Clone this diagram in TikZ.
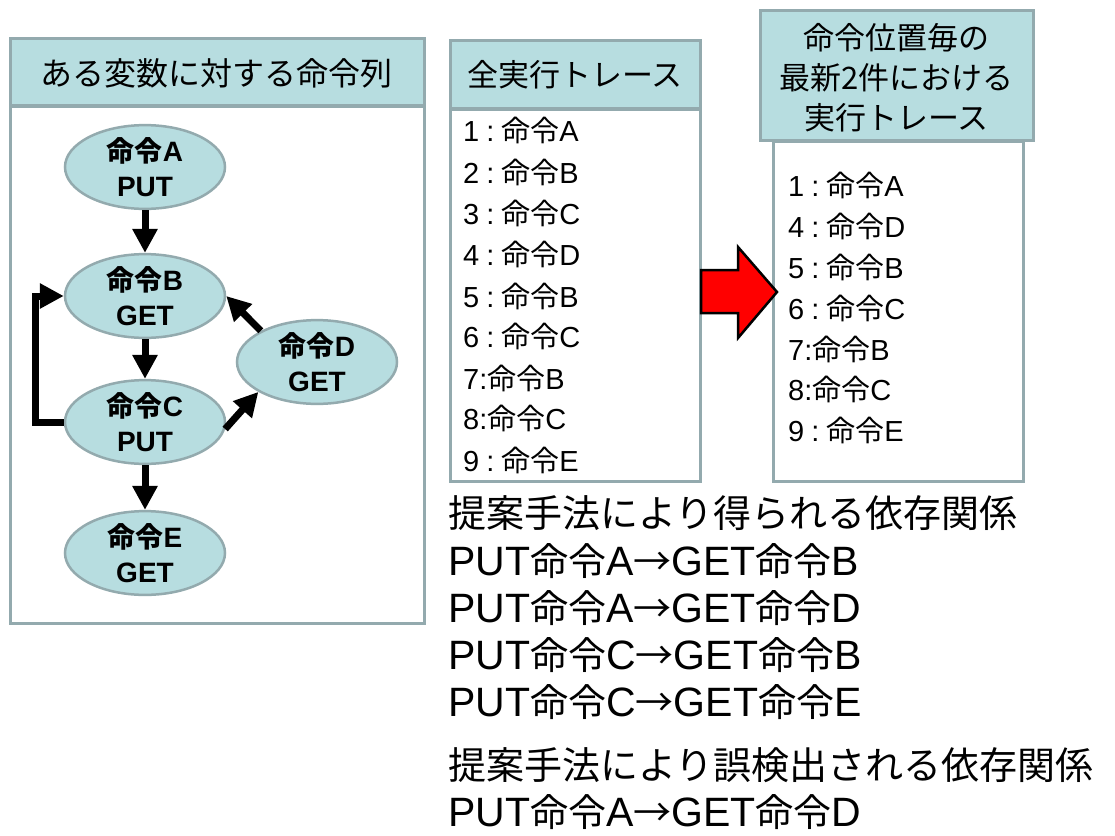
\documentclass[tikz,border=0pt]{standalone}
\usepackage{fontspec}
\setmainfont{Liberation Sans}
\newfontfamily\jp{Noto Sans CJK JP}
\usetikzlibrary{arrows.meta,shapes.geometric}
\definecolor{hdrfill}{RGB}{183,221,224}
\definecolor{bordc}{RGB}{147,170,174}
\newcommand\jt[1]{{\jp #1}}
\newcommand\bl[1]{{\rmfamily\fontsize{41}{46}\selectfont #1}}
\newcommand\wcol{\hspace{7pt}:\hspace{7pt}}
\begin{document}
\begin{tikzpicture}[x=1pt,y=-1pt,
  hdr/.style={draw=bordc, fill=hdrfill, line width=3pt, rectangle, inner sep=0pt},
  bodyb/.style={draw=bordc, fill=white, line width=3pt, rectangle, inner sep=0pt},
  inst/.style={ellipse, draw=bordc, fill=hdrfill, line width=2.5pt, minimum width=160pt, minimum height=76pt, inner sep=0pt, align=center, font=\bfseries\fontsize{28}{35}\selectfont},
  arr/.style={line width=7pt, -{Triangle[length=24pt,width=24pt]}, black},
  listt/.style={anchor=west, inner sep=0pt, font=\fontsize{29}{34}\selectfont},
  hdt/.style={font=\jp\fontsize{31}{40}\selectfont, align=center, inner sep=0pt},
  bott/.style={anchor=west, inner sep=0pt, font=\jp\fontsize{38}{46}\selectfont}
]
\fill[white] (0,0) rectangle (1115,835);
\useasboundingbox (0,0) rectangle (1115,835);

% left panel
\node[bodyb, minimum width=414pt, minimum height=517pt, anchor=north] (lb) at (217,105) {};
\node[hdr, minimum width=414pt, minimum height=67pt] (lh) at (217,71.5) {};
\node[hdt, font=\jp\fontsize{32}{40}\selectfont] (lt) at (216,73) {ある変数に対する命令列};

% middle panel
\node[bodyb, minimum width=250pt, minimum height=372pt, anchor=north] (mb) at (575,108) {};
\node[hdr, minimum width=250pt, minimum height=68pt] (mh) at (575,74) {};
\node[hdt] (mt) at (575,75) {全実行トレース};

% right panel
\node[bodyb, minimum width=250pt, minimum height=340pt, anchor=north] (rb) at (898,140) {};
\node[hdr, minimum width=273pt, minimum height=130pt] (rh) at (896.5,75) {};
\node[hdt] (rt) at (896.5,78) {命令位置毎の\\最新2件における\\実行トレース};

% instruction graph
\node[inst] (A) at (145,167) {\jt{命令}A\\PUT};
\node[inst] (B) at (145,296) {\jt{命令}B\\GET};
\node[inst] (C) at (145,422) {\jt{命令}C\\PUT};
\node[inst] (D) at (317,362) {\jt{命令}D\\GET};
\node[inst] (E) at (145,553) {\jt{命令}E\\GET};

\draw[arr] (A) -- (B);
\draw[arr] (B) -- (C);
\draw[arr] (C) -- (E);
\draw[arr] (C.355) -- (D.207);
\draw[arr] (D.151) -- (B.0);
\draw[arr, line join=miter] (C.west) -- ++(-28,0) |- (B.west);

% full trace list
\node[listt] (m1) at (463,130) {1\wcol\jt{命令}A};
\node[listt] (m2) at (463,172) {2\wcol\jt{命令}B};
\node[listt] (m3) at (463,213) {3\wcol\jt{命令}C};
\node[listt] (m4) at (463,254) {4\wcol\jt{命令}D};
\node[listt] (m5) at (463,296) {5\wcol\jt{命令}B};
\node[listt] (m6) at (463,336) {6\wcol\jt{命令}C};
\node[listt] (m7) at (463,378) {7:\jt{命令}B};
\node[listt] (m8) at (463,418) {8:\jt{命令}C};
\node[listt] (m9) at (463,460) {9\wcol\jt{命令}E};

% latest-2 trace list
\node[listt] (r1) at (788,185) {1\wcol\jt{命令}A};
\node[listt] (r2) at (788,226) {4\wcol\jt{命令}D};
\node[listt] (r3) at (788,267) {5\wcol\jt{命令}B};
\node[listt] (r4) at (788,308) {6\wcol\jt{命令}C};
\node[listt] (r5) at (788,349) {7:\jt{命令}B};
\node[listt] (r6) at (788,389) {8:\jt{命令}C};
\node[listt] (r7) at (788,430) {9\wcol\jt{命令}E};

% red block arrow
\draw[fill=red, draw=black, line width=2.5pt, line join=miter]
  (701,270) -- (738,270) -- (738,247) -- (777,292) -- (738,338) -- (738,313) -- (701,313) -- cycle;

% bottom text
\node[bott] (b1) at (448,513) {提案手法により得られる依存関係};
\node[bott] (b2) at (448,561) {\bl{PUT}命令\bl{A}→\bl{GET}命令\bl{B}};
\node[bott] (b3) at (448,608) {\bl{PUT}命令\bl{A}→\bl{GET}命令\bl{D}};
\node[bott] (b4) at (448,655) {\bl{PUT}命令\bl{C}→\bl{GET}命令\bl{B}};
\node[bott] (b5) at (448,702) {\bl{PUT}命令\bl{C}→\bl{GET}命令\bl{E}};
\node[bott] (b6) at (448,765) {提案手法により誤検出される依存関係};
\node[bott] (b7) at (448,812) {\bl{PUT}命令\bl{A}→\bl{GET}命令\bl{D}};
\end{tikzpicture}
\end{document}
